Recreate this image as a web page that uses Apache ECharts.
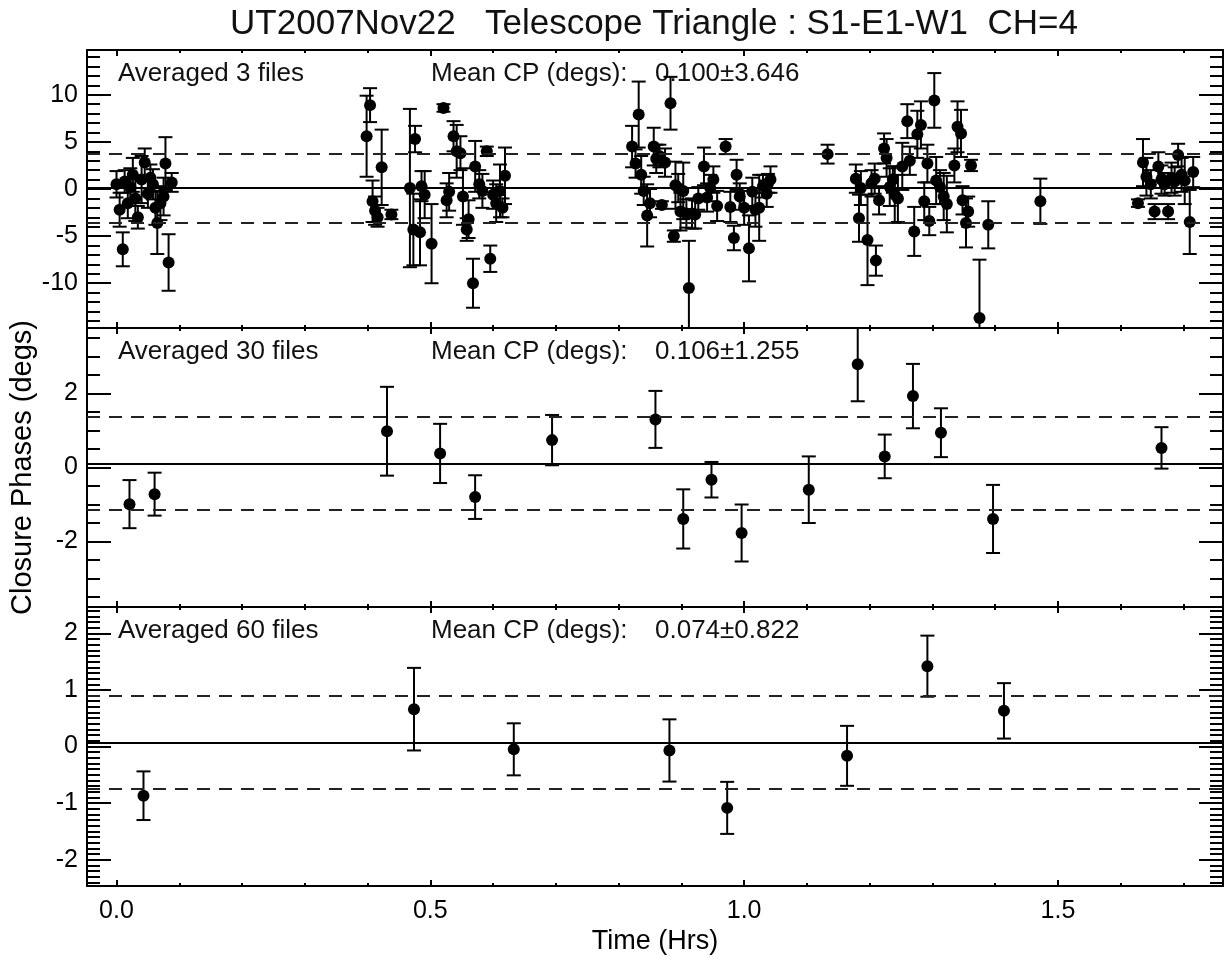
<!DOCTYPE html>
<html>
<head>
<meta charset="utf-8">
<script src="https://cdn.jsdelivr.net/npm/echarts@6/dist/echarts.min.js"></script>
<style>
html,body{margin:0;padding:0;background:#fff;}
#chart{width:1229px;height:958px;}
</style>
</head>
<body>
<div id="chart"></div>
<script>
// ---------------- data ----------------
const chartTitle = 'UT2007Nov22   Telescope Triangle : S1-E1-W1  CH=4';
const xLabel = 'Time (Hrs)';
const yLabel = 'Closure Phases (degs)';
const xRange = [-0.047, 1.763];
const xMajorTicks = [0.0, 0.5, 1.0, 1.5];
const xTickLabels = ['0.0', '0.5', '1.0', '1.5'];
const xMinorStep = 0.1;

const panelNames = ['Averaged 3 files', 'Averaged 30 files', 'Averaged 60 files'];
const meanCP = [0.100, 0.106, 0.074];
const sigmaCP = [3.646, 1.255, 0.822];
const meanLabels = ['0.100\u00b13.646', '0.106\u00b11.255', '0.074\u00b10.822'];
const yRanges = [[-14.75, 14.75], [-3.77, 3.77], [-2.466, 2.466]];
const yMajorTicks = [[-10, -5, 0, 5, 10], [-2, 0, 2], [-2, -1, 0, 1, 2]];
const yMinorSteps = [1, 0.5, 0.1];

// Panel 1: averaged 3 files
const t3 = [
  0.000, 0.005, 0.010, 0.013, 0.018, 0.022, 0.026, 0.030, 0.034, 0.040, 0.045, 0.050, 0.054, 0.058, 0.062, 0.065, 0.070, 0.075, 0.078, 0.083, 0.088,
  0.3985, 0.404, 0.408, 0.412, 0.416, 0.4225, 0.438, 0.4675, 0.473, 0.4757, 0.4836, 0.486, 0.491, 0.502, 0.521, 0.526, 0.530, 0.537, 0.542, 0.548, 0.552, 0.558, 0.561, 0.568, 0.5715, 0.578, 0.583, 0.590, 0.5955, 0.600, 0.605, 0.611, 0.615, 0.619,
  0.8215, 0.827, 0.832, 0.836, 0.840, 0.8455, 0.850, 0.856, 0.860, 0.865, 0.869, 0.874, 0.8827, 0.888, 0.8906, 0.895, 0.8986, 0.903, 0.908, 0.912, 0.917, 0.922, 0.927, 0.936, 0.941, 0.946, 0.951, 0.957, 0.9705, 0.978, 0.9837, 0.988, 0.993, 1.000, 1.0077, 1.013, 1.018, 1.024, 1.030, 1.036, 1.038, 1.042,
  1.133, 1.178, 1.183, 1.186, 1.1966, 1.203, 1.208, 1.210, 1.215, 1.223, 1.227, 1.232, 1.237, 1.240, 1.245, 1.252, 1.260, 1.264, 1.271, 1.276, 1.2817, 1.287, 1.292, 1.295, 1.303, 1.306, 1.312, 1.318, 1.323, 1.335, 1.340, 1.3456, 1.348, 1.3535, 1.357, 1.3615, 1.375, 1.389,
  1.472, 1.6275, 1.6355, 1.641, 1.648, 1.654, 1.660, 1.665, 1.670, 1.6755, 1.681, 1.686, 1.6915, 1.697, 1.702, 1.710, 1.7155
];
const cp3 = [
  0.5, -2.2, -6.4, 0.8, -1.5, 0.2, 1.5, -1.0, -3.0, 1.0, 2.8, -0.5, 1.2, 0.5, -2.0, -3.6, -1.5, -0.8, 2.7, -7.8, 0.7,
  5.6, 8.9, -1.3, -2.3, -3.0, 2.3, -2.7, 0.1, -4.3, 5.3, -4.6, 0.3, -0.6, -5.8, 8.6, -1.2, -0.3, 5.6, 4.0, 3.8, -0.8, -4.3, -3.2, -10.0, 2.4, 0.5, -0.2, 4.0, -7.4, -0.6, -1.5, -0.2, -2.0, 1.4,
  4.5, 2.7, 7.9, 1.5, -0.2, -2.8, -1.5, 4.5, 3.2, 3.5, -1.7, 2.8, 9.1, -5.0, 0.4, 0.1, -2.4, -0.2, -2.6, -10.5, -2.6, -2.7, -1.0, 2.4, -0.9, 0.1, 1.0, -1.8, 4.5, -1.9, -5.2, 1.5, -0.8, -2.0, -6.3, -0.3, -2.2, -2.0, 0.3, -0.5, 0.6, 1.0,
  3.7, 1.1, -3.1, 0.1, -5.4, 0.6, 1.1, -7.6, -1.2, 4.3, 3.3, 0.2, 1.0, -0.6, -1.0, 2.4, 7.2, 3.0, -4.5, 5.8, 6.8, -1.3, 2.7, -3.4, 9.4, 0.9, 0.2, -0.8, -1.6, 2.5, 6.6, 5.9, -1.2, -3.6, -2.4, 2.5, -13.7, -3.8,
  -1.3, -1.5, 2.8, 1.3, 0.5, -2.4, 2.4, 1.0, 0.5, -2.4, 1.2, 0.8, 3.6, 1.5, 0.9, -3.5, 1.8
];
const err3 = [
  1.4, 1.8, 1.8, 1.2, 1.6, 2.0, 1.8, 2.4, 1.2, 2.5, 1.5, 1.5, 1.4, 1.6, 1.8, 3.3, 1.8, 2.0, 2.8, 3.0, 1.0,
  4.3, 1.8, 2.2, 1.5, 1.0, 4.0, 0.5, 8.4, 3.8, 1.4, 3.5, 1.6, 2.5, 4.2, 0.4, 1.8, 2.0, 1.6, 2.8, 1.8, 3.0, 1.2, 2.0, 2.6, 2.7, 1.5, 1.8, 0.5, 1.4, 1.5, 2.0, 2.8, 1.0, 3.0,
  2.2, 1.5, 3.5, 2.0, 1.5, 3.3, 1.5, 2.0, 1.5, 1.2, 0.4, 1.5, 2.8, 0.6, 2.5, 1.5, 2.0, 3.0, 1.5, 5.0, 1.6, 1.5, 1.2, 2.0, 1.5, 1.4, 1.4, 1.6, 0.8, 1.6, 1.3, 1.6, 1.4, 1.8, 3.5, 1.5, 1.8, 3.5, 1.2, 1.4, 1.0, 1.4,
  1.0, 1.5, 2.5, 1.8, 4.8, 1.4, 1.6, 1.6, 1.5, 1.6, 2.0, 2.0, 1.4, 3.0, 2.5, 2.5, 1.8, 1.5, 2.6, 2.5, 2.5, 2.0, 2.0, 1.5, 2.9, 2.5, 1.8, 2.5, 3.0, 1.8, 2.7, 2.5, 1.5, 2.6, 1.6, 0.6, 6.2, 2.5,
  2.4, 0.4, 2.5, 2.0, 1.5, 0.8, 1.5, 1.5, 1.2, 0.8, 1.6, 1.5, 1.2, 1.8, 2.5, 3.4, 1.6
];

// Panel 2: averaged 30 files
const t30 = [0.0207, 0.0607, 0.431, 0.5156, 0.5714, 0.694, 0.8587, 0.903, 0.948, 0.996, 1.103, 1.181, 1.224, 1.269, 1.3136, 1.3966, 1.665];
const cp30 = [-0.99, -0.72, 0.98, 0.38, -0.80, 0.74, 1.30, -1.39, -0.33, -1.77, -0.60, 2.79, 0.30, 1.93, 0.94, -1.39, 0.53];
const err30 = [0.65, 0.58, 1.20, 0.80, 0.59, 0.68, 0.77, 0.80, 0.48, 0.77, 0.90, 1.00, 0.59, 0.87, 0.66, 0.92, 0.56];

// Panel 3: averaged 60 files
const t60 = [0.043, 0.474, 0.633, 0.881, 0.973, 1.164, 1.292, 1.414];
const cp60 = [-0.87, 0.66, -0.05, -0.07, -1.085, -0.165, 1.42, 0.63];
const err60 = [0.43, 0.73, 0.46, 0.55, 0.46, 0.53, 0.54, 0.49];

const panelT = [t3, t30, t60];
const panelCP = [cp3, cp30, cp60];
const panelErr = [err3, err30, err60];

// ---------------- layout / style ----------------
const FONT = '"Liberation Sans", Arial, Helvetica, sans-serif';
const gridLeft = 87, gridRight = 6;
const gridTops = [50, 328, 607];
const gridHeights = [278, 279, 279];
const black = '#000';

function minorValues(range, step, majors) {
  const out = [];
  const k0 = Math.ceil(range[0] / step - 1e-9), k1 = Math.floor(range[1] / step + 1e-9);
  for (let k = k0; k <= k1; k++) {
    const v = Math.round(k * step * 1e6) / 1e6;
    if (!majors.some(m => Math.abs(m - v) < 1e-9)) out.push(v);
  }
  return out;
}
const xMinorTicks = minorValues(xRange, xMinorStep, xMajorTicks);

const grids = [], xAxes = [], yAxes = [], series = [], graphics = [];

for (let i = 0; i < 3; i++) {
  grids.push({ left: gridLeft, right: gridRight, top: gridTops[i], height: gridHeights[i] });
  const isBottom = (i === 2);
  const lineStyle = { color: black, width: 2 };
  const xBase = { gridIndex: i, type: 'value', min: xRange[0], max: xRange[1], splitLine: { show: false }, animation: false };
  xAxes.push(Object.assign({}, xBase, {
    position: 'bottom',
    axisLine: { show: true, onZero: false, lineStyle },
    axisTick: { show: true, inside: true, length: 6, lineStyle, customValues: xMajorTicks },
    axisLabel: {
      show: isBottom, customValues: xMajorTicks, margin: 13, color: black, fontSize: 25, fontFamily: FONT,
      formatter: v => { const k = xMajorTicks.findIndex(m => Math.abs(m - v) < 1e-9); return k >= 0 ? xTickLabels[k] : ''; }
    },
    name: isBottom ? xLabel : '', nameLocation: 'middle', nameGap: 42,
    nameTextStyle: { color: black, fontSize: 27, fontFamily: FONT }
  }));
  xAxes.push(Object.assign({}, xBase, {
    position: 'top',
    axisLine: { show: true, onZero: false, lineStyle },
    axisTick: { show: true, inside: true, length: 6, lineStyle, customValues: xMajorTicks },
    axisLabel: { show: false }
  }));
  ['bottom', 'top'].forEach(pos => {
    xAxes.push(Object.assign({}, xBase, {
      position: pos,
      axisLine: { show: false, onZero: false },
      axisTick: { show: true, inside: true, length: 3, lineStyle, customValues: xMinorTicks },
      axisLabel: { show: false }
    }));
  });

  const yMinor = minorValues(yRanges[i], yMinorSteps[i], yMajorTicks[i]);
  const yBase = { gridIndex: i, type: 'value', min: yRanges[i][0], max: yRanges[i][1], splitLine: { show: false } };
  yAxes.push(Object.assign({}, yBase, {
    position: 'left',
    axisLine: { show: true, onZero: false, lineStyle },
    axisTick: { show: true, inside: true, length: 24, lineStyle, customValues: yMajorTicks[i] },
    axisLabel: { show: true, customValues: yMajorTicks[i], margin: 9, color: black, fontSize: 25, fontFamily: FONT },
    name: i === 1 ? yLabel : '', nameLocation: 'middle', nameGap: 50,
    nameTextStyle: { color: black, fontSize: 29, fontFamily: FONT }
  }));
  yAxes.push(Object.assign({}, yBase, {
    position: 'right',
    axisLine: { show: true, onZero: false, lineStyle },
    axisTick: { show: true, inside: true, length: 24, lineStyle, customValues: yMajorTicks[i] },
    axisLabel: { show: false }
  }));
  ['left', 'right'].forEach(pos => {
    yAxes.push(Object.assign({}, yBase, {
      position: pos,
      axisLine: { show: false, onZero: false },
      axisTick: { show: true, inside: true, length: 13, lineStyle, customValues: yMinor },
      axisLabel: { show: false }
    }));
  });

  const xi = 4 * i, yi = 4 * i;
  const pts = panelT[i].map((t, k) => [t, panelCP[i][k], panelErr[i][k]]);

  series.push({
    type: 'line', xAxisIndex: xi, yAxisIndex: yi, data: [], z: 1, silent: true,
    markLine: {
      silent: true, symbol: ['none', 'none'], label: { show: false }, animation: false,
      data: [
        { yAxis: meanCP[i], lineStyle: { type: 'solid', width: 2, color: black } },
        { yAxis: meanCP[i] + sigmaCP[i], lineStyle: { type: [13, 9], width: 2, color: '#222' } },
        { yAxis: meanCP[i] - sigmaCP[i], lineStyle: { type: [13, 9], width: 2, color: '#222' } }
      ]
    }
  });
  series.push({
    type: 'custom', xAxisIndex: xi, yAxisIndex: yi, data: pts, z: 2, clip: true, silent: true, animation: false,
    encode: { x: 0, y: 1 },
    renderItem: (params, api) => {
      const x = api.value(0), y = api.value(1), e = api.value(2);
      const top = api.coord([x, y + e]);
      const bot = api.coord([x, y - e]);
      const hw = 7;
      const st = { stroke: black, lineWidth: 2 };
      return {
        type: 'group', children: [
          { type: 'line', shape: { x1: top[0], y1: top[1], x2: bot[0], y2: bot[1] }, style: st },
          { type: 'line', shape: { x1: top[0] - hw, y1: top[1], x2: top[0] + hw, y2: top[1] }, style: st },
          { type: 'line', shape: { x1: bot[0] - hw, y1: bot[1], x2: bot[0] + hw, y2: bot[1] }, style: st }
        ]
      };
    }
  });
  series.push({
    type: 'scatter', xAxisIndex: xi, yAxisIndex: yi, z: 3, silent: true, animation: false,
    symbol: 'circle', symbolSize: 12, itemStyle: { color: black, opacity: 1 },
    data: pts.map(p => [p[0], p[1]])
  });

  const ty = gridTops[i] + 24;
  const tstyle = (txt) => ({ text: txt, font: '26px ' + FONT, fill: '#111', align: 'left', verticalAlign: 'middle', textAlign: 'left', textVerticalAlign: 'middle' });
  graphics.push({ type: 'text', x: 118, y: ty, silent: true, style: tstyle(panelNames[i]) });
  graphics.push({ type: 'text', x: 431, y: ty, silent: true, style: tstyle('Mean CP (degs):') });
  graphics.push({ type: 'text', x: 655, y: ty, silent: true, style: tstyle(meanLabels[i]) });
}

graphics.push({
  type: 'text', x: 654, y: 24, silent: true,
  style: { text: chartTitle, font: '35px ' + FONT, fill: '#111', align: 'center', verticalAlign: 'middle', textAlign: 'center', textVerticalAlign: 'middle' }
});

const chart = echarts.init(document.getElementById('chart'), null, { renderer: 'canvas' });
chart.setOption({
  backgroundColor: '#fff',
  animation: false,
  grid: grids,
  xAxis: xAxes,
  yAxis: yAxes,
  series: series,
  graphic: graphics
});
</script>
</body>
</html>
